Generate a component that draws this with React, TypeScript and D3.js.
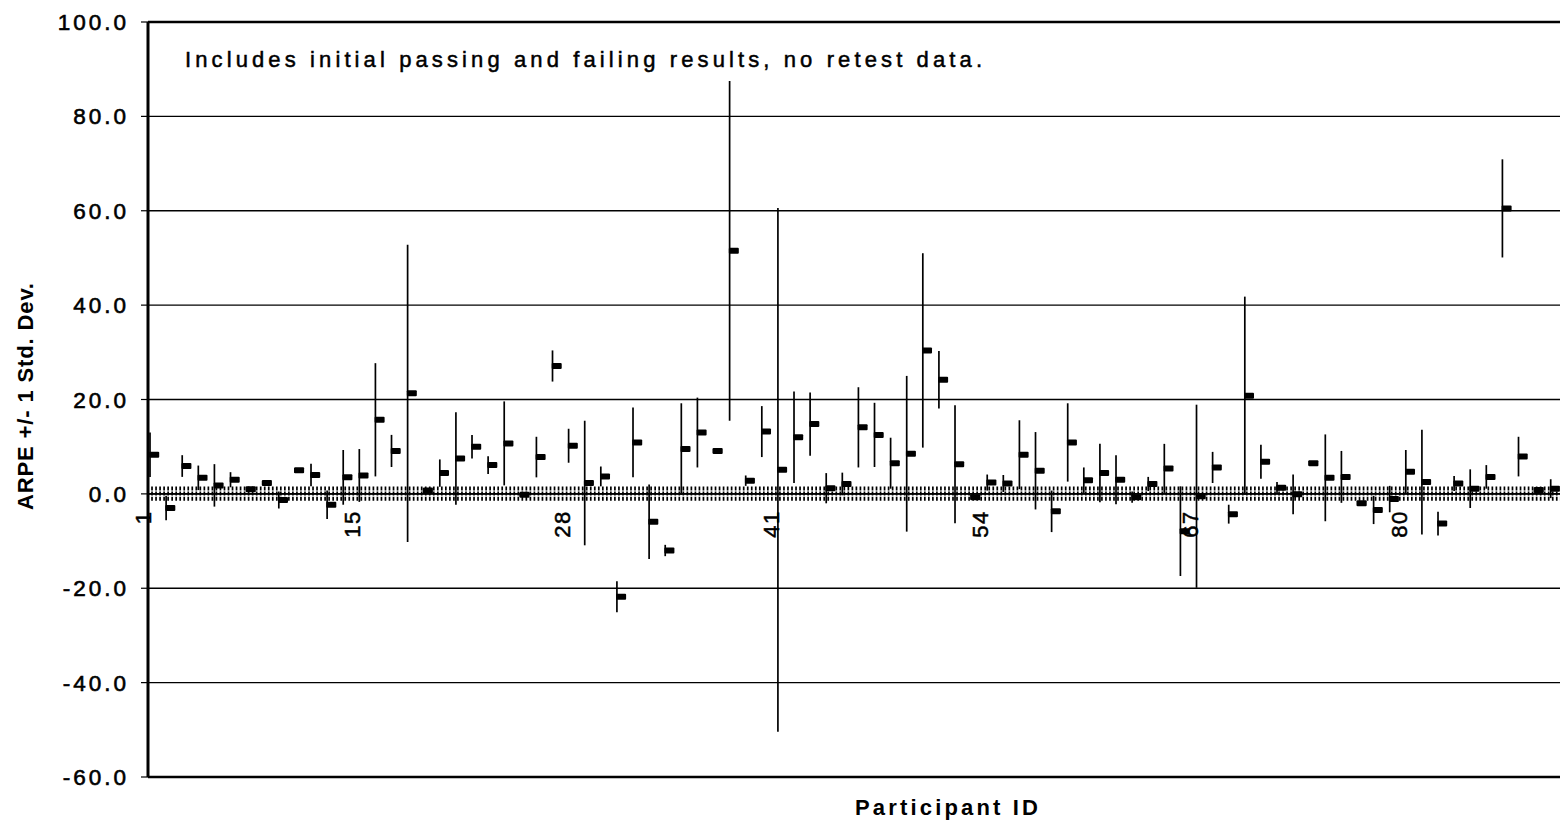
import React, { useEffect, useRef } from 'react';
import * as d3 from 'd3';

// Participant IDs along the category axis (one ID is missing between 1 and 15)
const participantIds = [
  1, 3, 4, 5, 6, 7, 8, 9, 10, 11, 12, 13, 14, 15, 16, 17, 18, 19, 20, 21, 22, 23,
  24, 25, 26, 27, 28, 29, 30, 31, 32, 33, 34, 35, 36, 37, 38, 39, 40, 41, 42, 43,
  44, 45, 46, 47, 48, 49, 50, 51, 52, 53, 54, 55, 56, 57, 58, 59, 60, 61, 62, 63,
  64, 65, 66, 67, 68, 69, 70, 71, 72, 73, 74, 75, 76, 77, 78, 79, 80, 81, 82, 83,
  84, 85, 86, 87, 88, 89,
];

// Mean ARPE per participant
const arpe = [
  8.3, -3.0, 5.9, 3.4, 1.8, 3.0, 1.0, 2.3, -1.3, 5.0, 4.0, -2.3, 3.5, 3.9, 15.7, 9.1,
  21.3, 0.7, 4.4, 7.5, 10.0, 6.1, 10.7, -0.2, 7.8, 27.1, 10.2, 2.3, 3.7, -21.8, 10.9, -5.9,
  -12.0, 9.5, 13.0, 9.1, 51.5, 2.8, 13.2, 5.1, 12.0, 14.8, 1.2, 2.1, 14.1, 12.5, 6.5, 8.5,
  30.4, 24.2, 6.3, -0.7, 2.4, 2.2, 8.3, 4.9, -3.7, 10.9, 2.9, 4.4, 3.0, -0.7, 2.1, 5.4,
  -7.9, -0.5, 5.6, -4.3, 20.8, 6.8, 1.3, -0.1, 6.5, 3.4, 3.6, -2.0, -3.4, -1.1, 4.7, 2.5,
  -6.3, 2.2, 1.1, 3.6, 60.5, 7.9, 0.8, 1.1,
];

// One standard deviation per participant
const stdDev = [
  4.7, 2.6, 2.3, 2.6, 4.5, 1.6, 0.5, 0.5, 1.8, 0.5, 2.4, 3.0, 5.8, 5.6, 12.0, 3.4,
  31.5, 0.5, 2.9, 9.8, 2.5, 1.9, 8.9, 0.4, 4.3, 3.3, 3.6, 13.2, 2.1, 3.3, 7.4, 7.9,
  1.2, 9.7, 7.4, 0.5, 36.0, 1.1, 5.4, 55.5, 9.7, 6.7, 3.2, 2.4, 8.5, 6.8, 5.4, 16.5,
  20.6, 6.1, 12.5, 0.5, 1.7, 1.8, 7.3, 8.2, 4.4, 8.3, 2.7, 6.2, 5.2, 1.2, 1.5, 5.2,
  9.5, 19.4, 3.3, 2.0, 21.0, 3.6, 1.2, 4.2, 0.5, 9.2, 5.5, 0.5, 3.0, 2.8, 4.6, 11.1,
  2.5, 1.6, 4.1, 2.5, 10.4, 4.2, 0.5, 2.0,
];

const yTicks = [100, 80, 60, 40, 20, 0, -20, -40, -60];
const labelEvery = 13;
const slotsPerParticipant = 4;

const noteText = 'Includes initial passing and failing results, no retest data.';
const xTitle = 'Participant ID';
const yTitle = 'ARPE +/- 1 Std. Dev.';

const App: React.FC = () => {
  const svgRef = useRef<SVGSVGElement>(null);

  useEffect(() => {
    if (!svgRef.current) return;
    d3.select(svgRef.current).selectAll('*').remove();

    const width = 1560;
    const height = 834;
    const left = 148;
    const top = 22;
    const bottom = 777;
    const step = 16.1;
    const font = "'Liberation Sans', Arial, sans-serif";

    const svg = d3.select(svgRef.current)
      .attr('width', width)
      .attr('height', height);

    const x = d3.scaleBand<number>()
      .domain(participantIds)
      .range([left, left + participantIds.length * step])
      .paddingInner(0)
      .paddingOuter(0);

    const y = d3.scaleLinear().domain([-60, 100]).range([bottom, top]);
    const slot = x.bandwidth() / slotsPerParticipant;
    const cx = (id: number) => (x(id) as number) + slot / 2;
    const right = width + 10;

    // horizontal grid lines
    svg.append('g')
      .selectAll('line')
      .data(yTicks)
      .join('line')
      .attr('x1', left)
      .attr('x2', right)
      .attr('y1', d => y(d))
      .attr('y2', d => y(d))
      .attr('stroke', '#000')
      .attr('stroke-width', d => (d === 100 || d === -60 ? 2.4 : 1.4));

    // y axis line + ticks
    svg.append('line')
      .attr('x1', left).attr('x2', left)
      .attr('y1', top).attr('y2', bottom)
      .attr('stroke', '#000').attr('stroke-width', 3);

    svg.append('g')
      .selectAll('line')
      .data(yTicks)
      .join('line')
      .attr('x1', left - 7).attr('x2', left)
      .attr('y1', d => y(d)).attr('y2', d => y(d))
      .attr('stroke', '#000').attr('stroke-width', 1.2);

    svg.append('g')
      .selectAll('text')
      .data(yTicks)
      .join('text')
      .attr('x', 129)
      .attr('y', d => y(d))
      .attr('dy', '0.36em')
      .attr('text-anchor', 'end')
      .attr('font-family', font)
      .attr('font-size', 22.5)
      .attr('letter-spacing', 3)
      .attr('stroke', '#000')
      .attr('stroke-width', 0.6)
      .attr('fill', '#000')
      .text(d => d.toFixed(1));

    // category axis at zero with dense crossing ticks
    const y0 = y(0);
    svg.append('line')
      .attr('x1', left).attr('x2', right)
      .attr('y1', y0).attr('y2', y0)
      .attr('stroke', '#000').attr('stroke-width', 1.8);

    const slotEdges = d3.range(participantIds.length * slotsPerParticipant + 1)
      .map(k => left + k * slot);
    svg.append('g')
      .selectAll('line')
      .data(slotEdges)
      .join('line')
      .attr('x1', d => d).attr('x2', d => d)
      .attr('y1', y0 - 7.5).attr('y2', y0 + 7.5)
      .attr('stroke', '#000')
      .attr('stroke-width', 1.7)
      .attr('stroke-dasharray', '4,1.2');

    // category labels, every 13th participant, rotated
    svg.append('g')
      .selectAll('text')
      .data(participantIds.filter((_, i) => i % labelEvery === 0))
      .join('text')
      .attr('transform', d => `translate(${cx(d) + 1},${y0 + 18}) rotate(-90)`)
      .attr('text-anchor', 'end')
      .attr('font-family', font)
      .attr('font-size', 22)
      .attr('letter-spacing', 1.5)
      .attr('dx', 1.5)
      .attr('stroke', '#000')
      .attr('stroke-width', 0.5)
      .attr('fill', '#000')
      .text(d => String(d));

    // high-low bars (mean +/- 1 sd) and close ticks (mean)
    const rows = participantIds.map((id, i) => ({ id, mean: arpe[i], sd: stdDev[i] }));

    svg.append('g')
      .selectAll('line')
      .data(rows)
      .join('line')
      .attr('x1', d => cx(d.id)).attr('x2', d => cx(d.id))
      .attr('y1', d => y(d.mean + d.sd))
      .attr('y2', d => y(d.mean - d.sd))
      .attr('stroke', '#000')
      .attr('stroke-width', 1.7);

    svg.append('g')
      .selectAll('rect')
      .data(rows)
      .join('rect')
      .attr('x', d => cx(d.id) - 0.8)
      .attr('y', d => y(d.mean) - 3)
      .attr('width', 10)
      .attr('height', 6)
      .attr('rx', 1)
      .attr('fill', '#000');

    // note inside plot
    svg.append('text')
      .attr('x', 185)
      .attr('y', 67)
      .attr('font-family', font)
      .attr('font-size', 22)
      .attr('textLength', 797)
      .attr('lengthAdjust', 'spacing')
      .attr('stroke', '#000')
      .attr('stroke-width', 0.5)
      .attr('fill', '#000')
      .text(noteText);

    // axis titles
    svg.append('text')
      .attr('x', 855)
      .attr('y', 815)
      .attr('font-family', font)
      .attr('font-size', 22)
      .attr('font-weight', 'bold')
      .attr('textLength', 183)
      .attr('lengthAdjust', 'spacing')
      .attr('fill', '#000')
      .text(xTitle);

    svg.append('text')
      .attr('transform', `translate(33,510) rotate(-90)`)
      .attr('font-family', font)
      .attr('font-size', 22)
      .attr('font-weight', 'bold')
      .attr('textLength', 227)
      .attr('lengthAdjust', 'spacing')
      .attr('fill', '#000')
      .text(yTitle);
  }, []);

  return (
    <div style={{ position: 'absolute', left: 0, top: 0, background: '#fff' }}>
      <svg ref={svgRef} style={{ display: 'block' }}></svg>
    </div>
  );
};

export default App;
